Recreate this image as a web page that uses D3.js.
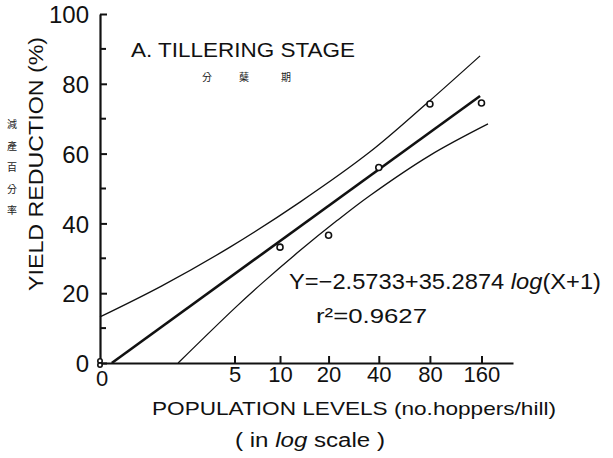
<!DOCTYPE html>
<html>
<head>
<meta charset="utf-8">
<script src="https://cdn.jsdelivr.net/npm/d3@7"></script>
<style>
  html, body { margin: 0; padding: 0; background: #fff; }
  svg { display: block; }
  text { font-family: "Liberation Sans", Arial, sans-serif; fill: #111; }
  .cjk { font-family: "Noto Sans CJK TC", sans-serif; }
</style>
</head>
<body>
<div id="chart"></div>
<script>
// observed points (population level, % yield reduction)
const popLevels = [0, 0, 10, 20, 40, 80, 160];
const yieldReduction = [0.6, -0.6, 33.2, 36.6, 56.0, 74.2, 74.5];

// fitted line at both ends
const fitX = [0.17, 157];
const fitY = [0, 76.5];

// confidence curves
const upperX = [0, 1.28, 4.65, 13.35, 35.5, 75.9, 157];
const upperY = [13.2, 22.1, 33.2, 46.1, 60.5, 74.2, 88];
const lowerX = [1.83, 5.04, 7.77, 13.35, 22.5, 35.5, 80.1, 174.6];
const lowerY = [0, 15.8, 23.1, 32.2, 40.8, 48.0, 59.5, 68.5];

// axis ticks
const xTicks = [5, 10, 20, 40, 80, 160];
const yTicks = [0, 20, 40, 60, 80, 100];
const yMinorTicks = [10, 30, 50, 70, 90];

const width = 613, height = 458;

const svg = d3.select('#chart')
  .append('svg')
  .attr('width', width)
  .attr('height', height);

// log(X+1) axis -> symlog with constant 1
const x = d3.scaleSymlog().constant(1).domain([0, 244]).range([100, 513]);
const y = d3.scaleLinear().domain([0, 100]).range([363, 14]);

const zip = (xs, ys) => xs.map((v, i) => [v, ys[i]]);

// Axes
const xAxis = svg.append('g')
  .attr('transform', `translate(0,${y(0)})`)
  .call(d3.axisBottom(x).tickValues(xTicks).tickFormat(d3.format('d'))
    .tickSizeInner(-7).tickSizeOuter(0).tickPadding(4));
xAxis.select('.domain').attr('stroke', '#111').attr('stroke-width', 2);
xAxis.selectAll('.tick line').attr('stroke', '#111').attr('stroke-width', 2);
xAxis.selectAll('.tick text')
  .attr('fill', '#111').style('font-size', '22px').attr('dy', '0.7em');

const yAxis = svg.append('g')
  .attr('transform', `translate(${x(0)},0)`)
  .call(d3.axisLeft(y).tickValues(yTicks).tickSizeInner(-7).tickSizeOuter(0).tickPadding(11));
yAxis.select('.domain').attr('stroke', '#111').attr('stroke-width', 2.2);
yAxis.selectAll('.tick line').attr('stroke', '#111').attr('stroke-width', 2);
yAxis.selectAll('.tick text')
  .attr('fill', '#111').style('font-size', '24px').attr('dy', '0.36em');

// minor y ticks
svg.append('g').selectAll('line')
  .data(yMinorTicks)
  .enter()
  .append('line')
  .attr('x1', x(0)).attr('x2', x(0) + 6)
  .attr('y1', d => y(d)).attr('y2', d => y(d))
  .attr('stroke', '#111').attr('stroke-width', 2);

// x "0" label at origin
svg.append('text')
  .attr('x', x(0) + 2).attr('y', 386)
  .attr('text-anchor', 'middle')
  .style('font-size', '22px')
  .text('0');

// Confidence curves
const curve = d3.line()
  .x(d => x(d[0]))
  .y(d => y(d[1]))
  .curve(d3.curveCatmullRom);

svg.append('path')
  .datum(zip(upperX, upperY))
  .attr('d', curve)
  .attr('fill', 'none').attr('stroke', '#111').attr('stroke-width', 1.3);

svg.append('path')
  .datum(zip(lowerX, lowerY))
  .attr('d', curve)
  .attr('fill', 'none').attr('stroke', '#111').attr('stroke-width', 1.3);

// Fitted line
svg.append('path')
  .datum(zip(fitX, fitY))
  .attr('d', d3.line().x(d => x(d[0])).y(d => y(d[1])))
  .attr('fill', 'none').attr('stroke', '#111').attr('stroke-width', 2.6);

// Observed points
svg.append('g').selectAll('circle')
  .data(zip(popLevels, yieldReduction))
  .enter()
  .append('circle')
  .attr('cx', d => x(d[0]))
  .attr('cy', d => y(d[1]))
  .attr('r', d => d[0] === 0 ? 2.2 : 3)
  .attr('fill', '#fff')
  .attr('stroke', '#111')
  .attr('stroke-width', 1.6);

// Title
svg.append('text')
  .attr('x', 131).attr('y', 57)
  .attr('textLength', 224).attr('lengthAdjust', 'spacingAndGlyphs')
  .style('font-size', '21px')
  .text('A. TILLERING STAGE');

svg.append('g').selectAll('text')
  .data(['分', '蘖', '期'])
  .enter()
  .append('text')
  .attr('class', 'cjk')
  .attr('x', (d, i) => [207, 244, 286][i])
  .attr('y', 81)
  .attr('text-anchor', 'middle')
  .style('font-size', '10px')
  .style('fill', '#222')
  .text(d => d);

// Y axis title
svg.append('text')
  .attr('transform', 'translate(43,164) rotate(-90)')
  .attr('text-anchor', 'middle')
  .attr('textLength', 254).attr('lengthAdjust', 'spacingAndGlyphs')
  .style('font-size', '21px')
  .text('YIELD REDUCTION (%)');

svg.append('g').selectAll('text')
  .data(['減', '產', '百', '分', '率'])
  .enter()
  .append('text')
  .attr('class', 'cjk')
  .attr('x', 12)
  .attr('y', (d, i) => 128 + i * 21.5)
  .attr('text-anchor', 'middle')
  .style('font-size', '10px')
  .style('fill', '#222')
  .text(d => d);

// X axis title
svg.append('text')
  .attr('x', 152).attr('y', 415)
  .attr('textLength', 404).attr('lengthAdjust', 'spacingAndGlyphs')
  .style('font-size', '19px')
  .text('POPULATION LEVELS (no.hoppers/hill)');

const sub = svg.append('text')
  .attr('x', 235).attr('y', 447)
  .attr('textLength', 150).attr('lengthAdjust', 'spacingAndGlyphs')
  .style('font-size', '20px');
sub.append('tspan').text('(  in ');
sub.append('tspan').style('font-style', 'italic').text('log');
sub.append('tspan').text(' scale )');

// Equation
const eq = svg.append('text')
  .attr('x', 289).attr('y', 289)
  .attr('textLength', 312).attr('lengthAdjust', 'spacingAndGlyphs')
  .style('font-size', '22px');
eq.append('tspan').text('Y=\u22122.5733+35.2874 ');
eq.append('tspan').style('font-style', 'italic').text('log');
eq.append('tspan').text('(X+1)');

svg.append('text')
  .attr('x', 316).attr('y', 323)
  .attr('textLength', 111).attr('lengthAdjust', 'spacingAndGlyphs')
  .style('font-size', '21px')
  .text('r\u00B2=0.9627');
</script>
</body>
</html>
